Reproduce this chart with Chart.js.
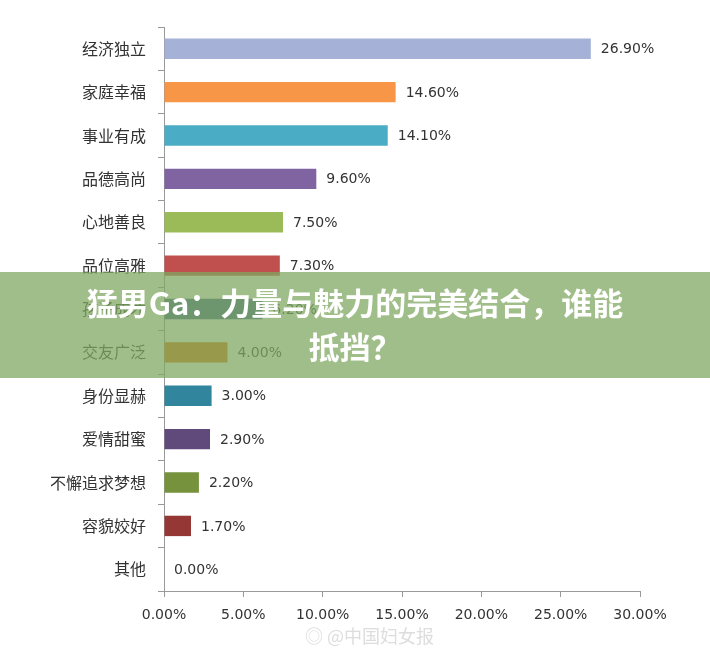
<!DOCTYPE html>
<html><head><meta charset="utf-8">
<script src="https://cdn.jsdelivr.net/npm/chart.js@4"></script>
<style>
body{margin:0;background:#fff;width:710px;height:655px;overflow:hidden;position:relative;font-family:"Noto Sans CJK SC",sans-serif}
#wrap{position:absolute;left:0;top:0;width:710px;height:655px}
#band{position:absolute;left:0;top:272px;width:710px;height:106px;background:rgba(128,168,98,0.75);color:#fff;font-weight:bold;font-size:31px;text-align:center;line-height:44px;padding-top:8px;box-sizing:border-box}
#band div{width:640px;margin:0 auto}
#wm{position:absolute;left:305px;top:622px;color:#ddd;font-size:18px}
</style></head><body>
<div id="wrap"><canvas id="c" width="710" height="655"></canvas></div>
<div id="band"><div>猛男Ga：力量与魅力的完美结合，谁能<br>抵挡？</div></div>
<div id="wm">◎ @中国妇女报</div>
<script>
// 数据
const categories = ["经济独立","家庭幸福","事业有成","品德高尚","心地善良","品位高雅","孩子成才","交友广泛","身份显赫","爱情甜蜜","不懈追求梦想","容貌姣好","其他"];
const values = [26.9,14.6,14.1,9.6,7.5,7.3,6.2,4.0,3.0,2.9,2.2,1.7,0.0];
const colors = ["#a5b1d6","#f79646","#4bacc6","#8064a2","#9bbb59","#c0504d","#366092","#e46c0a","#31859c","#604a7b","#76923c","#953735","#4f81bd"];

// 在条形末端写数值
const valueLabels = {
    id: "valueLabels",
    afterDatasetsDraw(chart) {
        const ctx = chart.ctx;
        const meta = chart.getDatasetMeta(0);
        ctx.save();
        ctx.font = "14px 'DejaVu Sans', sans-serif";
        ctx.fillStyle = "#333";
        ctx.textBaseline = "middle";
        meta.data.forEach((bar, i) => {
            ctx.fillText(values[i].toFixed(2) + "%", bar.x + 10, bar.y + 1);
        });
        ctx.restore();
    }
};

new Chart(document.getElementById("c"), {
    type: "bar",
    data: {
        labels: categories,
        datasets: [{ data: values, backgroundColor: colors, barPercentage: 0.47, categoryPercentage: 1 }]
    },
    options: {
        indexAxis: "y",
        responsive: false,
        animation: false,
        layout: { padding: { left: 0, right: 70, top: 27, bottom: 20 } },
        plugins: { legend: { display: false }, tooltip: { enabled: false } },
        scales: {
            x: {
                min: 0, max: 30,
                afterFit: s => { s.height = 44; },
                ticks: { stepSize: 5, color: "#333", font: { size: 14, family: "DejaVu Sans" }, callback: v => v.toFixed(2) + "%", padding: 10 },
                grid: { drawOnChartArea: false, color: "#999", tickLength: 6 },
                border: { color: "#999" }
            },
            y: {
                afterFit: s => { s.width = 164; },
                ticks: { color: "#333", font: { size: 16, family: "Noto Sans CJK SC" }, padding: 12 },
                grid: { drawOnChartArea: false, color: "#999", tickLength: 6, offset: true },
                border: { color: "#999" }
            }
        }
    },
    plugins: [valueLabels]
});
</script>
</body></html>
